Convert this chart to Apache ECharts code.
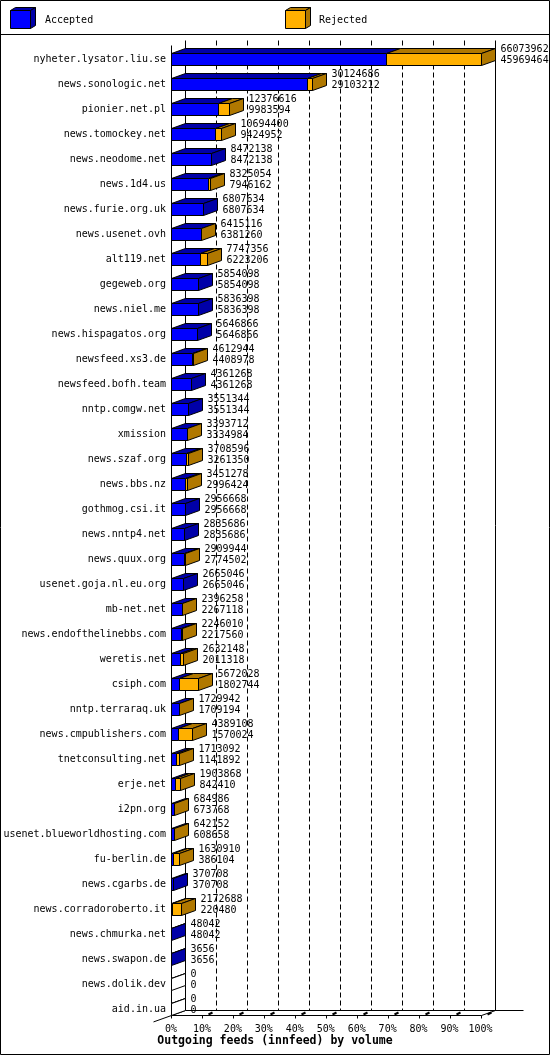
<!DOCTYPE html>
<html><head><meta charset="utf-8">
<script src="https://cdn.jsdelivr.net/npm/echarts@6/dist/echarts.min.js"></script>
<style>html,body{margin:0;padding:0;background:#fff}#c{width:550px;height:1055px}</style>
</head><body><div id="c"></div>
<script>
const categories = [
  'nyheter.lysator.liu.se','news.sonologic.net','pionier.net.pl','news.tomockey.net',
  'news.neodome.net','news.1d4.us','news.furie.org.uk','news.usenet.ovh','alt119.net',
  'gegeweb.org','news.niel.me','news.hispagatos.org','newsfeed.xs3.de','newsfeed.bofh.team',
  'nntp.comgw.net','xmission','news.szaf.org','news.bbs.nz','gothmog.csi.it','news.nntp4.net',
  'news.quux.org','usenet.goja.nl.eu.org','mb-net.net','news.endofthelinebbs.com','weretis.net',
  'csiph.com','nntp.terraraq.uk','news.cmpublishers.com','tnetconsulting.net','erje.net',
  'i2pn.org','usenet.blueworldhosting.com','fu-berlin.de','news.cgarbs.de',
  'news.corradoroberto.it','news.chmurka.net','news.swapon.de','news.dolik.dev','aid.in.ua'
];
const totalVolume = [
  66073962,30124686,12376616,10694400,8472138,8325054,6807634,6415116,7747356,
  5854098,5836398,5646866,4612944,4361268,3551344,3393712,3708596,3451278,2956668,2835686,
  2909944,2665046,2396258,2246010,2632148,5672028,1729942,4389108,1713092,1903868,
  684986,642152,1630910,370708,2172688,48042,3656,0,0
];
const acceptedVolume = [
  45969464,29103212,9983594,9424952,8472138,7946162,6807634,6381260,6223206,
  5854098,5836398,5646866,4408978,4361268,3551344,3334984,3261350,2996424,2956668,2835686,
  2774502,2665046,2267118,2217560,2011318,1802744,1709194,1570024,1141892,842410,
  673768,608658,386104,370708,220480,48042,3656,0,0
];
const legendNames = ['Accepted','Rejected'];
const titleText = 'Outgoing feeds (innfeed) by volume';

const C = {blue:'#0000ff', blueDark:'#0000a8', orange:'#ffb000', orangeDark:'#b07800'};
const DX = 14, DY = -5, BH = 12;
const FONT = 'DejaVu Sans Mono';

const maxV = Math.max(...totalVolume);
const barData = categories.map((c,i)=>[i, acceptedVolume[i]/maxV*100, totalVolume[i]/maxV*100, totalVolume[i], acceptedVolume[i]]);

function px(v){ return Math.round(v) + 0.5; }
function poly(pts, fill){
  return {type:'polygon', shape:{points:pts}, style:{fill:fill, stroke:'#000', lineWidth:1}};
}
function line(x1,y1,x2,y2,opt){
  opt = opt || {};
  return {type:'line', shape:{x1:x1,y1:y1,x2:x2,y2:y2},
    style:{stroke:'#000', lineWidth:opt.w||1, lineDash:opt.dash||null}};
}
function txt(s,x,y,align){
  return {type:'text', style:{text:String(s), x:x, y:y, fill:'#000',
    font:'10px "'+FONT+'"', align:align||'left', verticalAlign:'middle'}};
}

function renderBar(params, api){
  const i = api.value(0), a = api.value(1), t = api.value(2);
  const p0 = api.coord([0,i]), pa = api.coord([a,i]), pt = api.coord([t,i]);
  const cy = p0[1];
  const top = px(cy - BH/2), bot = px(cy + BH/2);
  const x0 = px(p0[0]), xa = px(pa[0]), xt = px(pt[0]);
  const ch = [];
  ch.push(poly([[x0,top],[xa,top],[xa+DX,top+DY],[x0+DX,top+DY]], C.blueDark));
  if (t > a && xt > xa) ch.push(poly([[xa,top],[xt,top],[xt+DX,top+DY],[xa+DX,top+DY]], C.orangeDark));
  if (xa > x0) ch.push({type:'rect', shape:{x:x0,y:top,width:xa-x0,height:bot-top}, style:{fill:C.blue,stroke:'#000',lineWidth:1}});
  if (xt > xa) ch.push({type:'rect', shape:{x:xa,y:top,width:xt-xa,height:bot-top}, style:{fill:C.orange,stroke:'#000',lineWidth:1}});
  const sideFill = t === 0 ? '#fff' : (t > a ? C.orangeDark : C.blueDark);
  ch.push(poly([[xt,top],[xt+DX,top+DY],[xt+DX,bot+DY],[xt,bot]], sideFill));
  ch.push(txt(api.value(3), xt+DX+5, cy-10));
  ch.push(txt(api.value(4), xt+DX+5, cy+1));
  return {type:'group', children:ch};
}

function renderFrame(params, api){
  const n = categories.length;
  const yTop = api.coord([0,0])[1], yBot = api.coord([0,n-1])[1];
  const floorF = px(yBot + BH/2), floorB = floorF + DY;
  const wallTop = px(yTop - BH/2) + DY - 8;
  const ch = [];
  const xf = [], xb = [];
  for (let k=0;k<=10;k++){
    const x = px(api.coord([k*10,0])[0]);
    xf.push(x); xb.push(x+DX);
  }
  for (let k=0;k<=10;k++){
    const solid = (k===0 || k===10);
    ch.push(line(xb[k], wallTop, xb[k], floorB, solid ? {} : {dash:[5,3]}));
  }
  ch.push(line(xf[0], wallTop-DY, xf[0], floorF));
  ch.push(line(xb[0], floorB, xb[10]+28, floorB));
  ch.push(line(xf[0], floorF, xf[10], floorF));
  ch.push(line(xb[0], floorB, xf[0]-18, floorF + 18*(-DY)/DX));
  ch.push(line(xf[10], floorF, xb[10], floorB));
  for (let k=0;k<=10;k++){
    ch.push(line(xf[k], floorF, xf[k], floorF+3));
    if (k>0) ch.push(line(xf[k]+6, floorF-1, xf[k]+10, floorF-3, {w:2}));
  }
  return {type:'group', children:ch};
}

function cube(x, y, w, h, fill, dark){
  const d = 5, e = -3;
  return [
    {type:'polygon', shape:{points:[[x,y],[x+w,y],[x+w+d,y+e],[x+d,y+e]]}, style:{fill:dark,stroke:'#000',lineWidth:1}},
    {type:'polygon', shape:{points:[[x+w,y],[x+w+d,y+e],[x+w+d,y+h+e],[x+w,y+h]]}, style:{fill:dark,stroke:'#000',lineWidth:1}},
    {type:'rect', shape:{x:x,y:y,width:w,height:h}, style:{fill:fill,stroke:'#000',lineWidth:1}}
  ];
}

const chart = echarts.init(document.getElementById('c'), null, {renderer:'canvas'});
chart.setOption({
  animation:false,
  backgroundColor:'#fff',
  title:{text:titleText, left:'center', top:1035, padding:0,
    textStyle:{fontFamily:FONT, fontSize:11.5, fontWeight:'bold', color:'#000'}},
  grid:{left:171, width:309.5, top:46.8, height:975, containLabel:false},
  xAxis:{type:'value', min:0, max:100, interval:10,
    axisLine:{show:false}, axisTick:{show:false}, splitLine:{show:false},
    axisLabel:{formatter:'{value}%', fontFamily:FONT, fontSize:10, color:'#000', margin:3}},
  yAxis:{type:'category', inverse:true, data:categories,
    axisLine:{show:false}, axisTick:{show:false}, splitLine:{show:false},
    axisLabel:{fontFamily:FONT, fontSize:10, color:'#000', margin:5, interval:0}},
  graphic:[
    {type:'rect', shape:{x:0.5,y:0.5,width:549,height:1054}, style:{fill:null,stroke:'#000',lineWidth:1}, silent:true},
    {type:'line', shape:{x1:0,y1:34.5,x2:550,y2:34.5}, style:{stroke:'#000',lineWidth:1}},
    ...cube(10.5, 10.5, 20, 18, C.blue, C.blueDark),
    {type:'text', style:{text:legendNames[0], x:45, y:20, font:'10px "'+FONT+'"', fill:'#000', verticalAlign:'middle'}},
    ...cube(285.5, 10.5, 20, 18, C.orange, C.orangeDark),
    {type:'text', style:{text:legendNames[1], x:319, y:20, font:'10px "'+FONT+'"', fill:'#000', verticalAlign:'middle'}}
  ],
  series:[
    {type:'custom', name:'frame', clip:false, z:1, silent:true,
      renderItem:renderFrame, data:[[0,0]], encode:{x:0,y:1}},
    {type:'custom', name:'bars', clip:false, z:2, silent:true,
      renderItem:renderBar, data:barData, encode:{x:[1,2], y:0}}
  ]
});
</script>
</body></html>
